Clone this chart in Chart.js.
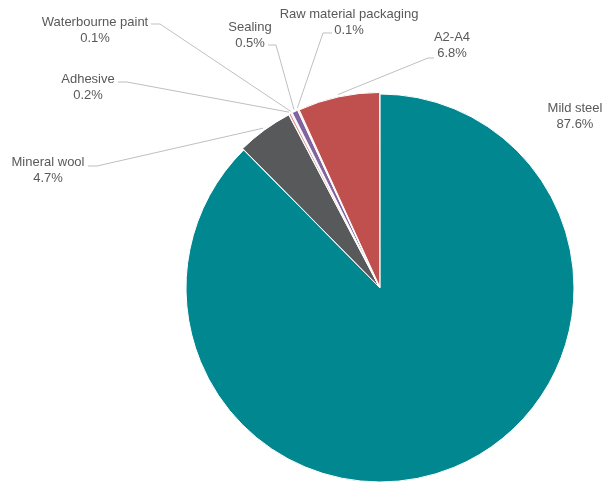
<!DOCTYPE html>
<html lang="en">
<head>
  <meta charset="UTF-8">
  <title>Material shares</title>
  <style>
    body {
      margin: 0;
      padding: 0;
      background: #fff;
    }
    .chart-box {
      width: 604px;
      height: 483px;
      position: relative;
    }
  </style>
</head>
<body>
  <div class="chart-box">
    <canvas id="pie-chart" width="604" height="483"></canvas>
  </div>

  <script src="https://cdn.jsdelivr.net/npm/chart.js"></script>
  <script>
    // data
    const materials = ['Mild steel', 'Mineral wool', 'Adhesive', 'Waterbourne paint', 'Sealing', 'Raw material packaging', 'A2-A4'];
    const shares = [87.6, 4.7, 0.2, 0.1, 0.5, 0.1, 6.8];
    const shareLabels = ['87.6%', '4.7%', '0.2%', '0.1%', '0.5%', '0.1%', '6.8%'];

    const sliceColors = ['#00878F', '#58595B', '#D99694', '#C4BD97', '#8064A2', '#F6B12C', '#C0504D'];
    const sliceOffsets = [0, 4, 4, 4, 4, 4, 4];

    // where each label sits: text centre, elbow of the leader, end of the short horizontal
    const labelLayout = [
      { x: 575, y: 108, line: false },
      { x: 48, y: 162, ex: 97, ey: 166, hx: 88 },
      { x: 88, y: 79, ex: 127, ey: 82, hx: 118 },
      { x: 95, y: 22, ex: 160, ey: 24, hx: 151 },
      { x: 250, y: 27, ex: 276, ey: 45, hx: 268 },
      { x: 349, y: 14, ex: 323, ey: 33, hx: 332 },
      { x: 452, y: 37, ex: 428, ey: 58, hx: 434 }
    ];

    const outsideLabels = {
      id: 'outsideLabels',
      afterDatasetsDraw(chart) {
        const ctx = chart.ctx;
        const arcs = chart.getDatasetMeta(0).data;
        ctx.save();
        ctx.strokeStyle = '#BFBFBF';
        ctx.lineWidth = 1;
        arcs.forEach((arc, i) => {
          const lay = labelLayout[i];
          if (lay.line === false) return;
          const mid = (arc.startAngle + arc.endAngle) / 2;
          const r = arc.outerRadius + (arc.options.offset || 0);
          const ax = arc.x + Math.cos(mid) * r;
          const ay = arc.y + Math.sin(mid) * r;
          ctx.beginPath();
          ctx.moveTo(ax, ay);
          ctx.lineTo(lay.ex, lay.ey);
          ctx.lineTo(lay.hx, lay.ey);
          ctx.stroke();
        });
        ctx.fillStyle = '#595959';
        ctx.font = '13px "Liberation Sans", Arial, sans-serif';
        ctx.textAlign = 'center';
        ctx.textBaseline = 'middle';
        materials.forEach((name, i) => {
          const lay = labelLayout[i];
          ctx.fillText(name, lay.x, lay.y);
          ctx.fillText(shareLabels[i], lay.x, lay.y + 16);
        });
        ctx.restore();
      }
    };

    const ctx = document.getElementById('pie-chart').getContext('2d');
    const pieChart = new Chart(ctx, {
      type: 'pie',
      data: {
        labels: materials,
        datasets: [{
          data: shares,
          backgroundColor: sliceColors,
          borderColor: '#ffffff',
          borderWidth: 1,
          offset: sliceOffsets
        }]
      },
      options: {
        responsive: false,
        animation: false,
        radius: 194,
        layout: {
          padding: { left: 156, right: 0, top: 93, bottom: 0 }
        },
        plugins: {
          legend: { display: false },
          tooltip: { enabled: false }
        }
      },
      plugins: [outsideLabels]
    });
  </script>
</body>
</html>
